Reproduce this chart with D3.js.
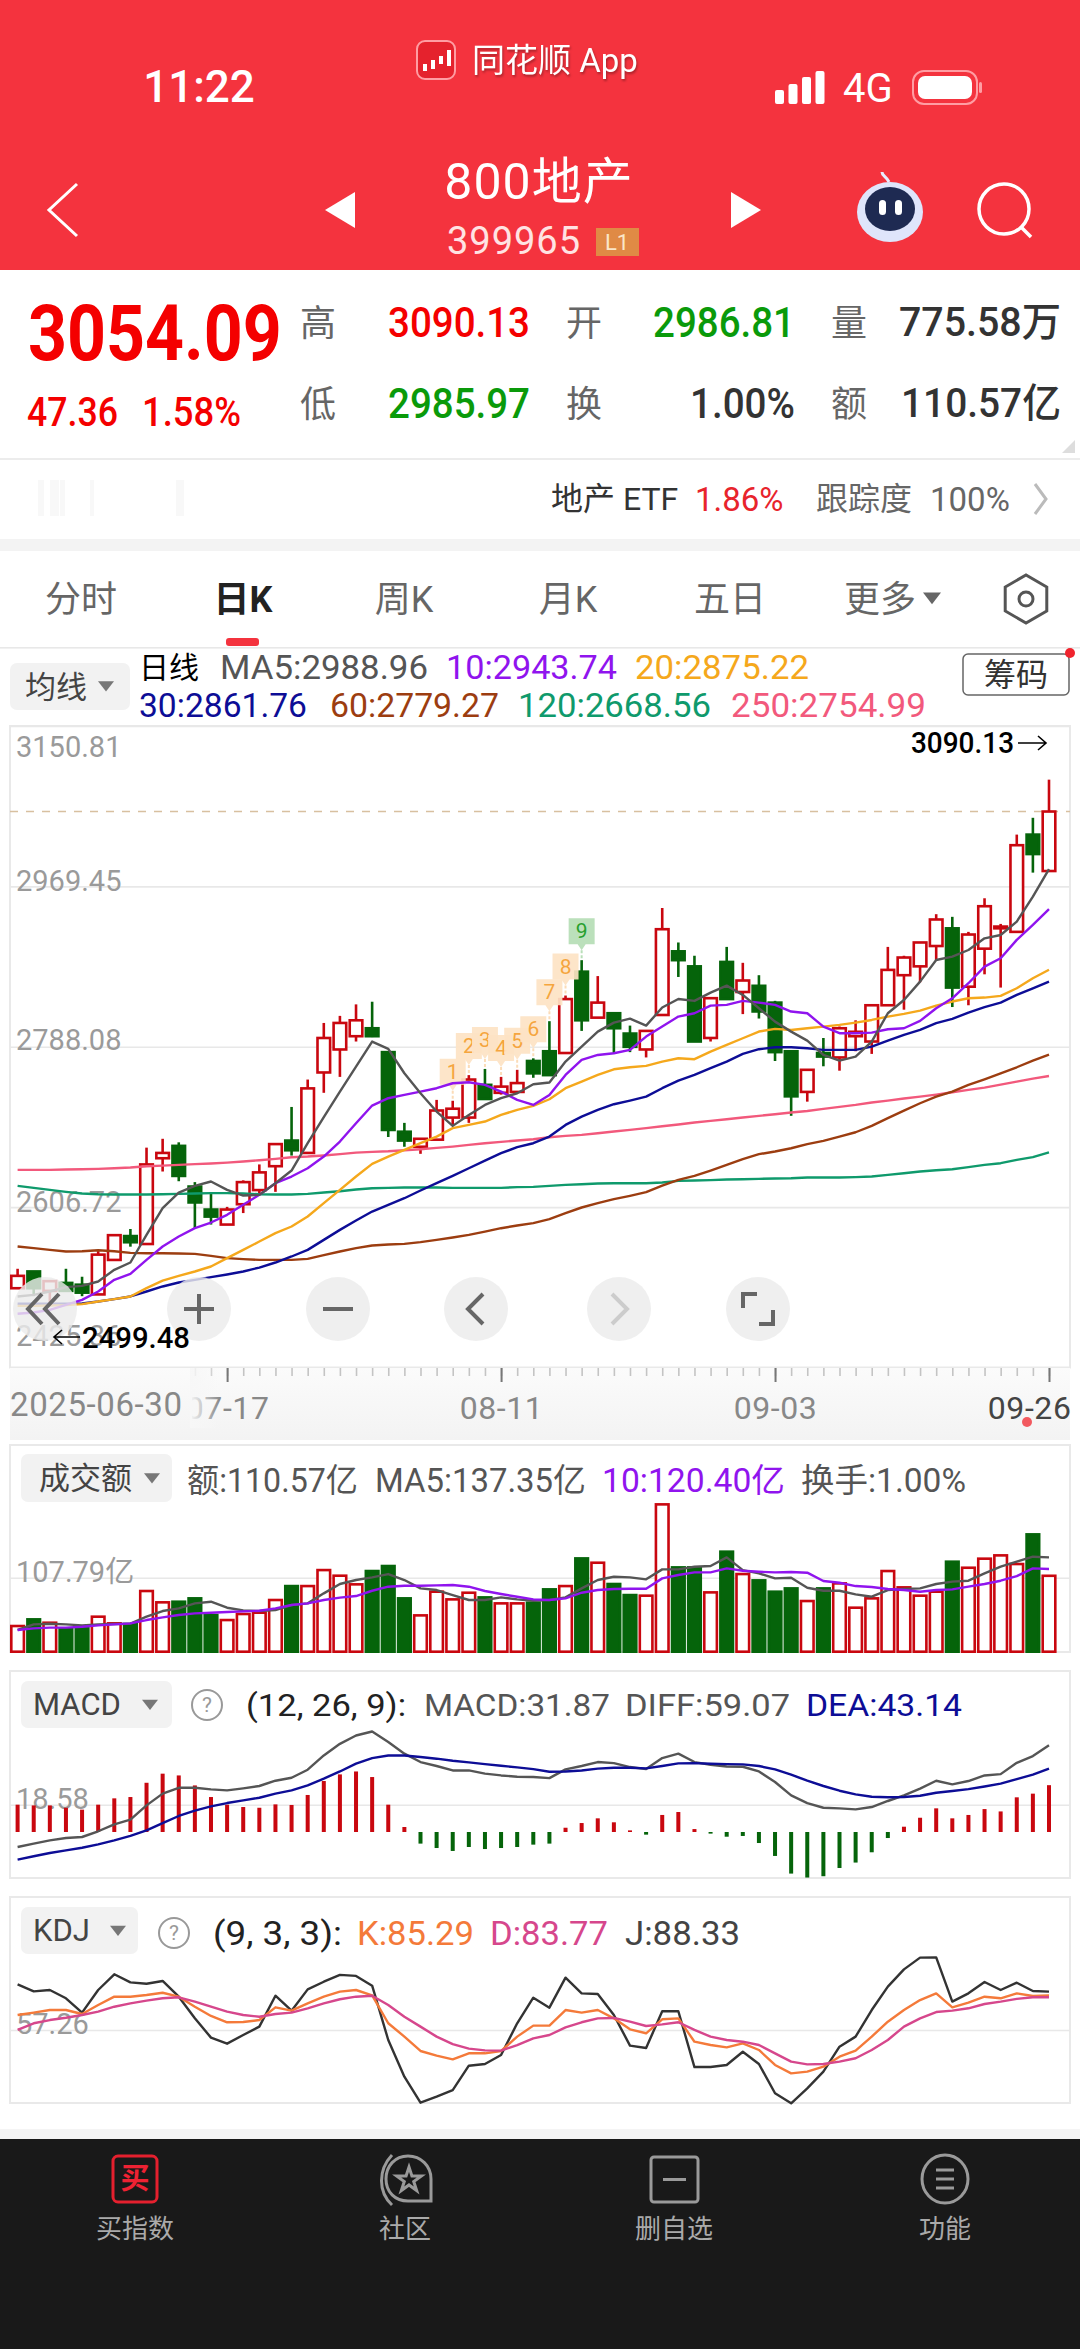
<!DOCTYPE html>
<html>
<head>
<meta charset="utf-8">
<style>
    html, body { margin: 0; padding: 0; background: #fff; }
    svg { display: block; }
    text { font-family: Roboto, "Noto Sans CJK SC", sans-serif; }
</style>
<script src="https://cdn.jsdelivr.net/npm/d3@7"></script>
</head>
<body>
<svg id="chart" width="1080" height="2349"></svg>
<script>
const dates = ["06-30",
    "07-01","07-02","07-03","07-04","07-07","07-08","07-09","07-10","07-11","07-14","07-15","07-16","07-17","07-18",
    "07-21","07-22","07-23","07-24","07-25","07-28","07-29","07-30","07-31","08-01","08-04","08-05","08-06","08-07","08-08",
    "08-11","08-12","08-13","08-14","08-15","08-18","08-19","08-20","08-21","08-22","08-25","08-26","08-27","08-28","08-29",
    "09-01","09-02","09-03","09-04","09-05","09-08","09-09","09-10","09-11","09-12","09-15","09-16","09-17","09-18","09-19",
    "09-22","09-23","09-24","09-25","09-26"];
const labelledDates = ["07-17", "08-11", "09-03", "09-26"];
const priceTicks = [3150.81, 2969.45, 2788.08, 2606.72, 2425.36];

const opens = [2515,2534,2512,2521,2519,2508,2547,2574,2565,2662,2676,2630,2604,2587,2610,2626,2653,2682,2668,2759,2785,2800,2809,2782,2692,2675,2683,2708,2708,2745,2736,2737,2772,
    2783,2781,2873,2821,2826,2803,2785,2824,2896,2879,2798,2884,2850,2857,2838,2783,2737,2781,2776,2800,2794,2835,2869,2879,2902,2922,2856,2899,2922,2918,3028,2986.81];
const highs = [2537,2534,2523,2537,2528,2557,2575,2582,2674,2684,2680,2635,2622,2607,2637,2655,2678,2720,2751,2815,2823,2836,2839,2782,2702,2684,2728,2727,2756,2763,2754,2762,2775,
    2817,2846,2886,2868,2826,2812,2806,2945,2906,2891,2843,2901,2883,2869,2840,2783,2762,2798,2811,2818,2835,2901,2891,2906,2938,2935,2918,2956,2927,3028,3047,3090.13];
const lows = [2515,2506,2499.48,2512,2506,2508,2547,2562,2565,2647,2636,2583,2587,2587,2600,2621,2624,2665,2668,2736,2754,2794,2799,2686,2675,2667,2683,2699,2702,2728,2734,2736,2753,
    2756,2781,2806,2821,2781,2782,2776,2824,2867,2794,2794,2842,2825,2820,2772,2710,2726,2766,2761,2783,2780,2835,2830,2861,2886,2833,2835,2870,2855,2918,2985,2985.97];
const closes = [2529,2515,2523,2512,2510,2553,2575,2567,2655,2668,2642,2612,2596,2604,2635,2646,2678,2671,2741,2798,2815,2818,2800,2694,2682,2684,2716,2718,2751,2729,2743,2747,2758,
    2756,2842,2818,2838,2809,2788,2806,2921,2886,2794,2843,2842,2863,2828,2782,2732,2762,2777,2809,2805,2835,2875,2889,2906,2932,2855,2915,2947,2924,3016,3006,3054.09];

const ma5 = [2505.7,2507.5,2511.3,2516.2,2517.7,2522.6,2535.8,2544.1,2575.4,2605.5,2623.2,2630.8,2635.7,2626.2,2619.8,2620.6,2633.8,2648.1,2679,2708.4,2737.4,2765.7,2793.9,2785.6,2758.1,2735.5,2714.8,2698.6,2711,2722.3,2729.9,2735.5,2745.7,
    2747.6,2771.3,2788.3,2805.2,2815.4,2819.9,2812,2832.4,2842.1,2839.9,2849.3,2857.2,2846.7,2831.6,2816.5,2805.2,2795,2778.8,2772.4,2777,2793.9,2826,2841,2861.7,2886.2,2890,2897.5,2910.7,2914.5,2929.6,2957.8,2988.96];
const ma10 = [2486.1,2487.6,2490.6,2496.2,2501.9,2511.3,2524.5,2531.3,2547.1,2562.2,2573.5,2582.9,2589.3,2598,2609.3,2620.6,2633.8,2641.3,2650.7,2663.9,2680.9,2701.6,2721.6,2729.9,2733.6,2737.4,2741.2,2746.8,2748,2744.9,2737.4,2728,2722.3,
    2733.6,2756.2,2773.2,2778.8,2780.7,2784.5,2799.6,2810.9,2822.2,2826,2834.6,2835.4,2839.9,2838,2835.4,2827.9,2826,2810.9,2803.4,2803.4,2804.1,2807.9,2809,2817.3,2831.6,2842.9,2859.9,2878.7,2888.2,2908.9,2925.8,2943.74];
const ma20 = [2495.1,2495.1,2495.5,2495.9,2497,2500,2502.7,2505.7,2515.1,2523.7,2529,2533.9,2539.6,2549,2558.4,2567.8,2577.3,2584.8,2596.1,2611.2,2626.2,2641.3,2655.6,2663.9,2671.5,2679,2686.5,2696,2699.7,2703.5,2711,2716.7,2721.2,
    2728.7,2741.2,2748.7,2756.2,2762.6,2764.9,2766.4,2771.3,2775.1,2774,2782.6,2790.1,2797.7,2805.3,2808.3,2807.1,2809,2810.9,2812.8,2815.4,2818.4,2822.2,2825.2,2829,2834.6,2839.2,2842.9,2843.7,2845.6,2854.2,2865.6,2875.22];
const ma30 = [2497.4,2497.4,2497.4,2497.4,2497.8,2500,2502.7,2505.7,2511.3,2517,2521.5,2524.5,2527.5,2530.5,2533.9,2538.4,2544.1,2550.9,2558.4,2569.7,2581,2591.6,2601.7,2609.3,2616.8,2625.5,2633.8,2642.1,2650.7,2659.4,2667.7,2674.5,2679,
    2686.5,2699.7,2709.1,2716.7,2723.1,2727.2,2731.7,2741.2,2749.8,2756.2,2763.8,2771.3,2780,2785.3,2787.5,2787.5,2786.4,2784.5,2784.5,2784.5,2788.3,2795,2801.5,2807.1,2814.7,2819.6,2826.7,2832.8,2838,2846.7,2854.2,2861.76];
const ma60 = [2562.2,2560.3,2558.4,2556.5,2556.9,2558,2556.9,2555,2554.6,2554.6,2554.3,2553.9,2551.6,2549,2547.9,2547.1,2547.1,2547.1,2548.2,2552.4,2556.5,2560.3,2563.3,2564.4,2565.2,2567.1,2569.7,2572.4,2575.4,2579.1,2582.9,2585.9,2588.6,
    2593.1,2599.9,2606.3,2611.2,2615.7,2619.5,2623.6,2631.1,2637.6,2642.1,2648.1,2654.5,2660.9,2666.6,2669.6,2673.3,2677.9,2681.6,2686.5,2691.4,2698.6,2707.3,2715.9,2724.2,2731.7,2737.4,2744.9,2751.3,2758.1,2764.9,2772.4,2779.27];
const ma120 = [2630.8,2628.5,2626.2,2624,2622.1,2621.3,2621,2621,2621,2621.3,2621.7,2622.1,2622.5,2622.5,2622.1,2621.3,2621,2621,2621.7,2623.2,2624.7,2626.6,2628.1,2628.5,2628.9,2628.9,2628.9,2628.5,2628.5,2628.5,2628.5,2629.3,2629.6,
    2630.8,2631.9,2632.6,2633.4,2633.8,2633.8,2633.8,2634.5,2636.4,2636.8,2637.2,2637.9,2638.3,2638.7,2639.1,2639.4,2640.2,2640.2,2640.2,2640.6,2641.3,2643.2,2645.1,2647,2648.5,2649.6,2651.9,2654.5,2656.4,2660.2,2663.2,2668.56];
const ma250 = [2648.8,2648.8,2648.8,2649.2,2649.6,2650,2650.7,2651.5,2653,2653.7,2654.5,2655.3,2656,2657.1,2658.3,2659.8,2661.3,2663.2,2663.9,2665.1,2666.6,2668.4,2669.2,2669.9,2671.1,2672.2,2673.7,2675.2,2677.1,2679,2680.5,2682,2683.5,
    2685.8,2687.3,2688.4,2690.3,2692.2,2694.1,2696,2698.2,2700.1,2702.4,2704.2,2706.1,2708,2709.9,2711.8,2713.7,2715.5,2717.8,2720.1,2722.3,2725,2727.2,2729.5,2731.7,2734,2736.6,2739.3,2741.9,2745.3,2748.7,2752.1,2754.99];

const amounts = [37.4,47.1,42.2,34,34,51,41.3,40.3,88.4,71.9,72.8,77.7,53.4,46.1,54.9,56.8,75.3,95.6,95.6,118.9,110.7,98.1,117.5,124.8,77.7,52.9,87.4,76.2,85.9,79.1,70.4,70.4,71.4,
    90.8,95.6,135.9,129.6,98.6,82.5,81.6,214.6,122.8,122.8,86.4,145.7,113.1,103.9,87.4,92.2,73.8,92.2,99.5,64.1,77.7,117.5,93.7,81.6,87.4,131.1,122.3,135.5,140.3,127.7,170.9,110.57];
const amountMa5 = [31.6,39.8,40.8,39.8,38.4,39.8,40.3,40.8,51,59.2,63.1,70.4,72.8,64.1,60.2,59.2,60.7,68,70.4,85,98.6,104.4,108.3,113.1,104.4,92.2,89.8,82.5,75.3,75.3,79.1,76.2,74.3,
    75.3,79.1,92.2,104.4,109.2,108.3,105.4,119.9,119.9,123.8,124.8,137.4,118.9,114.1,106.8,107.8,93.2,88.8,88.8,83.5,80.1,89.8,91.3,92.2,98.6,102,103.4,114.1,123.8,131.1,138.4,137.35];
const amountMa10 = [31.6,34,35,35,36.4,38.4,39.8,41.3,46.1,50,53.4,55.8,56.8,57.8,58.7,59.7,63.1,68,70.4,75.3,78.7,81.1,88.8,94.7,96.1,96.1,96.6,97.1,94.7,88.4,84,80.1,76.2,
    75.3,77.7,85.9,89.8,91.3,91.8,91.8,106.8,111.7,115.5,115.5,121.4,118,116.5,115.5,116,115.1,102.9,100.5,95.6,94.2,91.3,89.8,87.4,89.8,90.8,94.7,98.6,103.4,110.2,121.4,120.4];

const macd = [18.6,18.1,18.1,16.5,15.2,18.6,22.9,23.8,33.5,39.7,38.5,31.7,23.8,18.6,17,16.5,18.8,18.4,25.2,34.7,39.2,41.2,37.4,18.6,3.4,-7.9,-10.9,-12.9,-10.2,-11.6,-10.9,-10.2,-8.6,
    -7.9,2.9,6.1,9.3,6.6,1.1,-1.8,11.6,13.6,2,-1.1,-3.2,-2.7,-7.5,-16.3,-28.3,-31,-30.1,-24.5,-20.8,-13.8,-4.1,3.6,9.7,16.1,9.3,11.6,15.6,14,23.6,26.1,31.87];
const diff = [-10.2,-7.9,-5.7,-4.1,-3.4,0.5,5.2,8.4,18.1,26.1,30.1,30.1,29,28.3,29.7,31.3,34.9,36.9,42.4,52.1,60,65.7,68.4,61.2,53.3,47.6,44.9,41.9,41.9,39.7,38.5,37.6,37.4,
    36.7,42.6,44.9,47.6,46.9,44.2,42.8,50.3,53.3,47.6,45.8,44.6,44.4,41.2,34,24.9,19.7,16.5,16.1,15.4,17,21.1,24.9,29.5,34.9,32.4,34.7,38.5,39.4,47.1,51.7,59.07];
const dea = [-18.8,-16.5,-14.3,-12.5,-10.7,-8.4,-5.7,-2.7,1.1,6.1,10.9,14.5,17.4,19.7,21.5,23.3,26.1,28.3,31.7,36.3,41.2,46.5,50.3,52.1,52.1,51,49.9,48.5,47.4,46.2,45.1,44,42.8,
    41,41.2,41.9,43.1,43.7,43.7,43.3,44.9,46.7,46.9,46.5,46.2,46,44.9,42.6,39,34.9,31.3,28.1,25.6,24,23.6,23.8,24.7,26.7,27.9,29.2,31,32.9,36,39,43.14];

const kdjK = [69.4,71.3,73.4,73.4,70.2,77.5,84.2,84.2,85.6,87.4,84.2,76.1,68.6,63.5,63.7,65.3,75.6,72.9,78.8,84.2,88.3,89.6,85.3,62.7,51.9,40.3,36.5,33.5,38.4,38.4,40.3,51.9,60.8,
    60.8,73.4,71.3,73.4,66.7,57.8,54.6,65.9,66.7,47.8,45.1,43.2,46.5,41.1,29,22.2,23.6,27.6,35.7,40.6,51.9,64,73.4,81.5,86.9,75.6,79.4,84.2,82.9,86.9,84.8,85.29];
const kdjD = [57.3,62.7,65.3,67.2,69.4,72.1,76.1,78.8,81,82.9,83.7,80.2,76.1,72.1,69.4,68,70.2,71.3,74.8,78.8,82.1,84.2,85,77.5,68,60,51.9,45.9,42.2,40.8,40.6,45.1,50.5,
    53.2,59.4,63.5,66.7,67,64,60.5,61.8,63.5,57.3,51.9,49.2,47.8,45.1,38.4,31.7,29.5,29.8,31.7,34.4,41.1,49.2,60,66.7,71.8,72.9,74.8,78.3,80.2,82.4,83.7,83.77];
const kdjJ = [94.2,88.5,89.6,82.9,71.3,89.6,102.3,95.8,94.7,96.9,84.2,66.7,51.1,46.2,53.2,60,85,72.9,90.1,96.3,101.8,101,93.1,49.2,19.5,-1.5,3.4,8.7,28.4,29.8,37,62.7,83.4,
    75.3,99.6,86.9,86.4,69.4,44.6,42.7,72.4,72.4,27.3,27.3,29,39.7,29.8,6.1,-2,10.1,23.6,43.8,51.9,73.4,92.3,106.3,115.8,116,80.2,86.9,96.1,89.6,95.5,88.8,88.33];

// nine-count markers above the candles (candle index for the counts 1..9)
const countSeq = [27,28,29,30,31,32,33,34,35];

const UP = "#c9070f", DOWN = "#05640a", GRID = "#e8e8e8", LABEL = "#9a9a9a";
const BAND = 12.6;

const svg = d3.select("#chart");

const x = d3.scalePoint().domain(dates).range([17.6, 1049]);
const yPrice = d3.scaleLinear().domain([2425.36, 3150.81]).range([1367.5, 726]);
const yAmount = d3.scaleLinear().domain([0, 107.79]).range([1651.7, 1577.7]);
const yMacd = d3.scaleLinear().domain([0, 18.58]).range([1832, 1804.7]);
const yKdj = d3.scaleLinear().domain([0, 57.26]).range([2030 + 57.26 * 1.2367, 2030]);

function label(parent, px, py, str, opts) {
    opts = opts || {};
    const t = parent.append("text")
        .attr("x", px).attr("y", py)
        .attr("dominant-baseline", "central")
        .attr("text-anchor", opts.anchor || "start")
        .attr("font-size", opts.size || 32)
        .attr("font-weight", opts.weight || 400)
        .attr("letter-spacing", opts.spacing || 0)
        .attr("fill", opts.fill || "#333")
        .text(str);
    if (opts.length) {
        t.attr("textLength", opts.length).attr("lengthAdjust", "spacingAndGlyphs");
    }
    return t;
}

function frame(top, bottom) {
    svg.append("rect").attr("x", 10).attr("y", top).attr("width", 1060).attr("height", bottom - top)
        .attr("fill", "#fff").attr("stroke", "#e9e9e9").attr("stroke-width", 2);
}

function gridAxis(scale, ticks, texts, offsets) {
    const axis = d3.axisRight(scale).tickValues(ticks).tickSize(1060).tickFormat((d, i) => texts[i]);
    const g = svg.append("g").attr("transform", "translate(10,0)").call(axis);
    g.select(".domain").remove();
    g.selectAll("line").attr("stroke", GRID).attr("stroke-width", 1.6);
    g.selectAll("text")
        .attr("x", 6)
        .attr("dy", (d, i) => offsets[i])
        .attr("dominant-baseline", "central")
        .attr("text-anchor", "start")
        .attr("font-size", 29)
        .attr("fill", LABEL);
}

function drawLine(scale, values, color, width) {
    const line = d3.line().x((d, i) => x(dates[i])).y(d => scale(d));
    svg.append("path").datum(values)
        .attr("d", line)
        .attr("fill", "none")
        .attr("stroke", color)
        .attr("stroke-width", width || 2.4)
        .attr("stroke-linejoin", "round");
}

function dropButton(top, bottom, width, str, textX, triX) {
    svg.append("rect").attr("x", 21).attr("y", top).attr("width", width).attr("height", bottom - top)
        .attr("rx", 7).attr("fill", "#f2f2f2");
    label(svg, textX, (top + bottom) / 2, str, {size: 31, fill: "#444"});
    triangle(triX, (top + bottom) / 2, 8, "#777");
}

function triangle(cx, cy, r, fill) {
    svg.append("path")
        .attr("d", `M${cx - r},${cy - r * 0.6}L${cx + r},${cy - r * 0.6}L${cx},${cy + r * 0.7}Z`)
        .attr("fill", fill);
}

function helpIcon(cx, cy) {
    svg.append("circle").attr("cx", cx).attr("cy", cy).attr("r", 15)
        .attr("fill", "none").attr("stroke", "#999").attr("stroke-width", 2);
    label(svg, cx, cy, "?", {size: 21, fill: "#999", anchor: "middle"});
}

/* ---------- header ---------- */
function drawHeader() {
    svg.append("rect").attr("width", 1080).attr("height", 270).attr("fill", "#f4333e");

    label(svg, 199, 87, "11:22", {size: 44, fill: "#fff", anchor: "middle", weight: 500});

    // app badge
    svg.append("rect").attr("x", 417).attr("y", 41).attr("width", 38).attr("height", 38).attr("rx", 8)
        .attr("fill", "#e5222d").attr("stroke", "#ff9da3").attr("stroke-width", 2);
    [[423, 64, 7], [431, 60, 9], [439, 56, 8], [447, 50, 16]].forEach(b => {
        svg.append("rect").attr("x", b[0]).attr("y", b[1]).attr("width", 4).attr("height", b[2]).attr("fill", "#fff");
    });
    label(svg, 472, 60, "同花顺 App", {size: 33, fill: "#fff"}).style("filter", "drop-shadow(1px 2px 1px rgba(0,0,0,.3))");

    // signal, 4G, battery
    [14, 20, 27, 33].forEach((h, i) => {
        svg.append("rect").attr("x", 775 + i * 13.5).attr("y", 104 - h).attr("width", 9).attr("height", h)
            .attr("rx", 2).attr("fill", "#fff");
    });
    label(svg, 843, 88, "4G", {size: 40, fill: "#fff"});
    svg.append("rect").attr("x", 913).attr("y", 71).attr("width", 64).attr("height", 33).attr("rx", 11)
        .attr("fill", "none").attr("stroke", "#ff9da3").attr("stroke-width", 2);
    svg.append("rect").attr("x", 918).attr("y", 76).attr("width", 54).attr("height", 23).attr("rx", 7).attr("fill", "#fff");
    svg.append("rect").attr("x", 979).attr("y", 82).attr("width", 3).attr("height", 11).attr("rx", 1.5).attr("fill", "#ff9da3");

    // nav row
    svg.append("path").attr("d", "M77,184L49,210L77,236")
        .attr("fill", "none").attr("stroke", "#fff").attr("stroke-width", 3);
    svg.append("path").attr("d", "M355,192L325,210L355,228Z").attr("fill", "#fff");
    svg.append("path").attr("d", "M731,192L761,210L731,228Z").attr("fill", "#fff");
    label(svg, 539, 182, "800地产", {size: 50, fill: "#fff", anchor: "middle", spacing: 1});
    label(svg, 514, 241, "399965", {size: 38, fill: "#ffe3e3", anchor: "middle", spacing: 1});
    svg.append("rect").attr("x", 596).attr("y", 228).attr("width", 43).attr("height", 28).attr("fill", "#e08a45");
    label(svg, 617, 242, "L1", {size: 22, fill: "#fbe6c8", anchor: "middle"});

    // robot and search
    svg.append("path").attr("d", "M889,182C886,176 882,176 882,172").attr("fill", "none").attr("stroke", "#e8ecff").attr("stroke-width", 3);
    svg.append("ellipse").attr("cx", 890).attr("cy", 212).attr("rx", 33).attr("ry", 30).attr("fill", "#dfe5fb");
    svg.append("ellipse").attr("cx", 890).attr("cy", 209).attr("rx", 25).attr("ry", 22).attr("fill", "#1e2a52");
    svg.append("rect").attr("x", 879).attr("y", 200).attr("width", 7).attr("height", 15).attr("rx", 3.5).attr("fill", "#fff");
    svg.append("rect").attr("x", 895).attr("y", 200).attr("width", 7).attr("height", 15).attr("rx", 3.5).attr("fill", "#fff");
    svg.append("circle").attr("cx", 1004).attr("cy", 209).attr("r", 25)
        .attr("fill", "none").attr("stroke", "#fff").attr("stroke-width", 3.5);
    svg.append("line").attr("x1", 1021).attr("y1", 227).attr("x2", 1031).attr("y2", 237)
        .attr("stroke", "#fff").attr("stroke-width", 3.5);
}

/* ---------- quote block ---------- */
function drawQuote() {
    const RED = "#f40000", GREEN = "#0a9a0a", DARK = "#333", MUTED = "#666";
    // the big price is narrower than Roboto Bold, squeeze it sideways
    label(svg, 0, 0, "3054.09", {size: 78, fill: RED, weight: 700})
        .attr("transform", "translate(28,333) scale(0.872,1)");
    label(svg, 27, 412, "47.36", {size: 40, fill: RED, weight: 500, length: 91});
    label(svg, 142, 412, "1.58%", {size: 40, fill: RED, weight: 500, length: 99});

    [["高", 324], ["低", 405]].forEach(r => label(svg, 318, r[1], r[0], {size: 36, fill: MUTED, anchor: "middle"}));
    [["开", 324], ["换", 405]].forEach(r => label(svg, 584, r[1], r[0], {size: 36, fill: MUTED, anchor: "middle"}));
    [["量", 324], ["额", 405]].forEach(r => label(svg, 849, r[1], r[0], {size: 36, fill: MUTED, anchor: "middle"}));

    label(svg, 388, 322, "3090.13", {size: 42, fill: RED, weight: 500, length: 142});
    label(svg, 388, 403, "2985.97", {size: 42, fill: GREEN, weight: 500, length: 142});
    label(svg, 653, 322, "2986.81", {size: 42, fill: GREEN, weight: 500, length: 142});
    label(svg, 690, 403, "1.00%", {size: 42, fill: DARK, weight: 500, length: 105});
    label(svg, 899, 322, "775.58万", {size: 40, fill: DARK, weight: 500, length: 162});
    label(svg, 901, 403, "110.57亿", {size: 40, fill: DARK, weight: 500, length: 160});

    svg.append("path").attr("d", "M1075,440L1075,453L1062,453Z").attr("fill", "#ddd");
    svg.append("rect").attr("y", 458).attr("width", 1080).attr("height", 2).attr("fill", "#ececec");

    [[38, 6], [50, 9], [60, 5], [90, 4], [176, 8]].forEach(b => {
        svg.append("rect").attr("x", b[0]).attr("y", 480).attr("width", b[1]).attr("height", 36).attr("fill", "#f8f8f8");
    });
    label(svg, 551, 499, "地产 ETF", {size: 32, fill: "#333"});
    label(svg, 695, 499, "1.86%", {size: 33, fill: "#e8242c"});
    label(svg, 816, 499, "跟踪度", {size: 32, fill: "#666"});
    label(svg, 930, 499, "100%", {size: 33, fill: "#666"});
    svg.append("path").attr("d", "M1035,484L1046,499L1035,514").attr("fill", "none").attr("stroke", "#bbb").attr("stroke-width", 3);

    svg.append("rect").attr("y", 539).attr("width", 1080).attr("height", 12).attr("fill", "#f3f3f3");
}

/* ---------- period tabs ---------- */
function drawTabs() {
    const tabs = [["分时", 81], ["日K", 243], ["周K", 404], ["月K", 568], ["五日", 730], ["更多", 880]];
    tabs.forEach((t, i) => {
        label(svg, t[1], 600, t[0], {
            size: 36, anchor: "middle",
            fill: i === 1 ? "#222" : "#666",
            weight: i === 1 ? 700 : 400
        });
    });
    triangle(932, 598, 9, "#666");
    const hex = d3.range(6).map(i => {
        const a = Math.PI / 3 * i + Math.PI / 6;
        return [1026 + 24 * Math.cos(a), 599 + 24 * Math.sin(a)];
    });
    svg.append("path").attr("d", d3.line()(hex) + "Z").attr("fill", "none").attr("stroke", "#555").attr("stroke-width", 3);
    svg.append("circle").attr("cx", 1026).attr("cy", 599).attr("r", 7).attr("fill", "none").attr("stroke", "#555").attr("stroke-width", 3);
    svg.append("rect").attr("x", 226).attr("y", 638).attr("width", 33).attr("height", 8).attr("rx", 3).attr("fill", "#f4333e");
    svg.append("rect").attr("y", 647).attr("width", 1080).attr("height", 1.6).attr("fill", "#e8e8e8");
}

/* ---------- price panel ---------- */
function drawPriceLegend() {
    svg.append("rect").attr("x", 10).attr("y", 663).attr("width", 120).attr("height", 47).attr("rx", 7).attr("fill", "#f2f2f2");
    label(svg, 25, 687, "均线", {size: 31, fill: "#444"});
    triangle(106, 686, 8, "#777");
    label(svg, 139, 667, "日线", {size: 30, fill: "#000"});
    const row1 = [["MA5:2988.96", 220, "#555", 208], ["10:2943.74", 446, "#9014ee", 171], ["20:2875.22", 635, "#f5a81c", 174]];
    const row2 = [["30:2861.76", 139, "#0d0d96", 168], ["60:2779.27", 330, "#9c3d10", 169], ["120:2668.56", 518, "#0f9a6c", 193], ["250:2754.99", 731, "#f2597c", 195]];
    row1.forEach(t => label(svg, t[1], 667, t[0], {size: 34, fill: t[2], length: t[3]}));
    row2.forEach(t => label(svg, t[1], 705, t[0], {size: 34, fill: t[2], length: t[3]}));

    svg.append("rect").attr("x", 963).attr("y", 654).attr("width", 106).attr("height", 41).attr("rx", 5)
        .attr("fill", "#fff").attr("stroke", "#666").attr("stroke-width", 1.5);
    label(svg, 1016, 675, "筹码", {size: 32, fill: "#333", anchor: "middle"});
    svg.append("circle").attr("cx", 1070).attr("cy", 653).attr("r", 5).attr("fill", "#f0232d");
}

function drawCandles() {
    const idx = d3.range(dates.length);
    const candles = svg.append("g").selectAll("g").data(idx).join("g");
    const color = i => closes[i] >= opens[i] ? UP : DOWN;
    const boxTop = i => yPrice(Math.max(opens[i], closes[i]));
    const boxBottom = i => yPrice(Math.min(opens[i], closes[i]));

    candles.append("line")
        .attr("x1", i => x(dates[i])).attr("x2", i => x(dates[i]))
        .attr("y1", i => yPrice(highs[i])).attr("y2", boxTop)
        .attr("stroke", color).attr("stroke-width", 2.6);
    candles.append("line")
        .attr("x1", i => x(dates[i])).attr("x2", i => x(dates[i]))
        .attr("y1", boxBottom).attr("y2", i => yPrice(lows[i]))
        .attr("stroke", color).attr("stroke-width", 2.6);
    candles.append("rect")
        .attr("x", i => x(dates[i]) - BAND / 2)
        .attr("y", boxTop)
        .attr("width", BAND)
        .attr("height", i => Math.max(1.5, boxBottom(i) - boxTop(i)))
        .attr("fill", i => closes[i] >= opens[i] ? "#fff" : DOWN)
        .attr("stroke", color)
        .attr("stroke-width", 2.6);
}

function drawCountMarkers() {
    const g = svg.append("g").selectAll("g").data(countSeq).join("g");
    const isLast = (d, i) => i === countSeq.length - 1;
    const tip = d => yPrice(highs[d]) - 10;
    g.append("line")
        .attr("x1", d => x(dates[d])).attr("x2", d => x(dates[d]))
        .attr("y1", tip).attr("y2", d => yPrice(highs[d]))
        .attr("stroke", (d, i) => isLast(d, i) ? "#b8dfb8" : "#fbdcb8")
        .attr("stroke-width", 2).attr("stroke-dasharray", "3 2");
    g.append("path")
        .attr("d", d => {
            const cx = x(dates[d]), t = tip(d);
            return `M${cx - 13},${t - 32}h26v26h-9l-4,6l-4,-6h-9Z`;
        })
        .attr("fill", (d, i) => isLast(d, i) ? "#b5ddb5" : "#fde3c4")
        .attr("opacity", 0.92);
    g.append("text")
        .attr("x", d => x(dates[d])).attr("y", d => tip(d) - 19)
        .attr("text-anchor", "middle").attr("dominant-baseline", "central")
        .attr("font-size", 21)
        .attr("fill", (d, i) => isLast(d, i) ? "#28a02e" : "#f5a53e")
        .text((d, i) => i + 1);
}

function drawPricePanel() {
    frame(726, 1367.5);
    gridAxis(yPrice, priceTicks, priceTicks.map(d => d.toFixed(2)), [20, -6, -7, -6, -32]);
    svg.append("line").attr("x1", 10).attr("x2", 1070)
        .attr("y1", yPrice(closes[closes.length - 1])).attr("y2", yPrice(closes[closes.length - 1]))
        .attr("stroke", "#d8c0a0").attr("stroke-width", 1.5).attr("stroke-dasharray", "8 8");
    drawCandles();
    drawCountMarkers();
    [[ma250, "#f2597c"], [ma120, "#0f9a6c"], [ma60, "#9c3d10"], [ma30, "#0d0d96"], [ma20, "#f5a81c"], [ma10, "#9014ee"], [ma5, "#555"]]
        .forEach(m => drawLine(yPrice, m[0], m[1]));

    label(svg, 911, 743, "3090.13", {size: 29, fill: "#000", weight: 500, length: 103});
    svg.append("path").attr("d", "M1018,743H1046M1038,736L1046,743L1038,750").attr("fill", "none").attr("stroke", "#000").attr("stroke-width", 1.6);

    // floating controls
    const btnY = 1309;
    [45, 199, 338, 476, 619, 758].forEach(cx => {
        svg.append("circle").attr("cx", cx).attr("cy", btnY).attr("r", 32).attr("fill", "#ececec").attr("opacity", 0.82);
    });
    const icon = (d, stroke) => svg.append("path").attr("d", d).attr("fill", "none")
        .attr("stroke", stroke || "#666").attr("stroke-width", 4);
    icon("M42,1294L28,1309L42,1324M59,1294L45,1309L59,1324");
    icon("M184,1309H214M199,1294V1324");
    icon("M323,1309H353");
    icon("M483,1294L468,1309L483,1324");
    icon("M612,1294L627,1309L612,1324", "#ccc");
    icon("M757,1294H743V1308M759,1324H773V1310");

    label(svg, 82, 1337, "2499.48", {size: 30, fill: "#000", weight: 500, length: 108});
    svg.append("path").attr("d", "M54,1337H80M62,1330L54,1337L62,1344").attr("fill", "none").attr("stroke", "#000").attr("stroke-width", 1.6);
}

function drawDateAxis() {
    const defs = svg.append("defs");
    const grad = defs.append("linearGradient").attr("id", "axisBand").attr("x1", 0).attr("y1", 0).attr("x2", 0).attr("y2", 1);
    grad.append("stop").attr("offset", 0).attr("stop-color", "#fbfbfb");
    grad.append("stop").attr("offset", 1).attr("stop-color", "#f3f3f3");
    const fade = defs.append("linearGradient").attr("id", "axisFade");
    fade.append("stop").attr("offset", 0).attr("stop-color", "#f7f7f7").attr("stop-opacity", 1);
    fade.append("stop").attr("offset", 1).attr("stop-color", "#f7f7f7").attr("stop-opacity", 0);

    svg.append("rect").attr("x", 10).attr("y", 1368).attr("width", 1060).attr("height", 72).attr("fill", "url(#axisBand)");

    const minor = svg.append("g").attr("transform", "translate(0,1368)")
        .call(d3.axisBottom(x).tickSize(8).tickFormat(""));
    minor.select(".domain").remove();
    minor.selectAll("line").attr("stroke", "#c4c4c4").attr("stroke-width", 1.6);

    const major = svg.append("g").attr("transform", "translate(0,1368)")
        .call(d3.axisBottom(x).tickValues(labelledDates).tickSize(14).tickPadding(14));
    major.select(".domain").remove();
    major.selectAll("line").attr("stroke", "#777").attr("stroke-width", 2);
    major.selectAll("text")
        .attr("font-size", 32)
        .attr("letter-spacing", 0.6)
        .attr("fill", d => d === "09-26" ? "#444" : "#888")
        .attr("text-anchor", d => d === "09-26" ? "end" : "middle")
        .attr("x", d => d === "09-26" ? 1071 - x(d) : 0);

    svg.append("rect").attr("x", 10).attr("y", 1368).attr("width", 182).attr("height", 72).attr("fill", "url(#axisBand)");
    svg.append("rect").attr("x", 190).attr("y", 1368).attr("width", 30).attr("height", 60).attr("fill", "url(#axisFade)");
    label(svg, 10, 1404, "2025-06-30", {size: 33, fill: "#888", spacing: 0.6});
    svg.append("circle").attr("cx", 1027).attr("cy", 1422).attr("r", 5).attr("fill", "#f2595f");
}

/* ---------- amount panel ---------- */
function drawAmountPanel() {
    frame(1445, 1652);
    gridAxis(yAmount, [107.79], ["107.79亿"], [-6]);
    dropButton(1454, 1502, 151, "成交额", 39, 152);
    const legend = [["额:110.57亿", 187, "#555", 171], ["MA5:137.35亿", 375, "#555", 211], ["10:120.40亿", 602, "#9014ee", 183], ["换手:1.00%", 801, "#555", 165]];
    legend.forEach(t => label(svg, t[1], 1480, t[0], {size: 33, fill: t[2], length: t[3]}));

    svg.append("g").selectAll("rect").data(amounts).join("rect")
        .attr("x", (d, i) => x(dates[i]) - BAND / 2)
        .attr("y", d => yAmount(d))
        .attr("width", BAND)
        .attr("height", d => yAmount(0) - yAmount(d))
        .attr("fill", (d, i) => closes[i] >= opens[i] ? "#fff" : DOWN)
        .attr("stroke", (d, i) => closes[i] >= opens[i] ? UP : DOWN)
        .attr("stroke-width", 2.6);
    drawLine(yAmount, amountMa5, "#555");
    drawLine(yAmount, amountMa10, "#9014ee");
}

/* ---------- MACD panel ---------- */
function drawMacdPanel() {
    frame(1671, 1878);
    gridAxis(yMacd, [18.58], ["18.58"], [-6]);
    dropButton(1681, 1728, 151, "MACD", 33, 150);
    helpIcon(207, 1705);
    const legend = [["(12, 26, 9):", 246, "#222", 160], ["MACD:31.87", 424, "#555", 186], ["DIFF:59.07", 625, "#555", 165], ["DEA:43.14", 806, "#0d0d96", 156]];
    legend.forEach(t => label(svg, t[1], 1705, t[0], {size: 32, fill: t[2], length: t[3]}));

    svg.append("g").selectAll("rect").data(macd).join("rect")
        .attr("x", (d, i) => x(dates[i]) - 2)
        .attr("y", d => d >= 0 ? yMacd(d) : yMacd(0))
        .attr("width", 4)
        .attr("height", d => Math.abs(yMacd(d) - yMacd(0)))
        .attr("fill", d => d >= 0 ? UP : DOWN);
    drawLine(yMacd, diff, "#555");
    drawLine(yMacd, dea, "#0d0d96");
}

/* ---------- KDJ panel ---------- */
function drawKdjPanel() {
    frame(1897, 2103);
    gridAxis(yKdj, [57.26], ["57.26"], [-7]);
    dropButton(1907, 1954, 117, "KDJ", 33, 118);
    helpIcon(174, 1933);
    const legend = [["(9, 3, 3):", 213, "#222", 129], ["K:85.29", 357, "#f47a3a", 117], ["D:83.77", 490, "#d6478c", 118], ["J:88.33", 625, "#444", 115]];
    legend.forEach(t => label(svg, t[1], 1933, t[0], {size: 33, fill: t[2], length: t[3]}));
    drawLine(yKdj, kdjJ, "#333");
    drawLine(yKdj, kdjK, "#f47a3a");
    drawLine(yKdj, kdjD, "#d6478c");
}

/* ---------- bottom bar ---------- */
function drawFooter() {
    svg.append("rect").attr("y", 2129).attr("width", 1080).attr("height", 10).attr("fill", "#f4f4f4");
    svg.append("rect").attr("y", 2139).attr("width", 1080).attr("height", 210).attr("fill", "#191919");
    const GREY = "#9a9a9a";
    const items = [["买指数", 135], ["社区", 405], ["删自选", 674], ["功能", 945]];
    items.forEach(t => label(svg, t[1], 2229, t[0], {size: 26, fill: "#aaa", anchor: "middle"}));

    svg.append("rect").attr("x", 113).attr("y", 2156).attr("width", 44).attr("height", 46).attr("rx", 5)
        .attr("fill", "none").attr("stroke", "#e5202e").attr("stroke-width", 3);
    label(svg, 135, 2179, "买", {size: 29, fill: "#ee2233", anchor: "middle", weight: 700});

    svg.append("path").attr("d", "M392,2155C378,2170 378,2192 392,2205").attr("fill", "none").attr("stroke", GREY).attr("stroke-width", 3);
    svg.append("path").attr("d", "M408,2156C395,2156 386,2166 386,2179C386,2192 395,2201 408,2201H431V2179C431,2166 421,2156 408,2156Z")
        .attr("fill", "none").attr("stroke", GREY).attr("stroke-width", 3);
    svg.append("path").attr("d", d3.symbol(d3.symbolStar, 190)())
        .attr("transform", "translate(409,2180)")
        .attr("fill", "none").attr("stroke", GREY).attr("stroke-width", 3);

    svg.append("rect").attr("x", 651).attr("y", 2157).attr("width", 47).attr("height", 45).attr("rx", 3)
        .attr("fill", "none").attr("stroke", GREY).attr("stroke-width", 3);
    svg.append("rect").attr("x", 663).attr("y", 2178).attr("width", 23).attr("height", 3).attr("fill", GREY);

    svg.append("ellipse").attr("cx", 945).attr("cy", 2179).attr("rx", 23).attr("ry", 24)
        .attr("fill", "none").attr("stroke", GREY).attr("stroke-width", 3);
    [2170, 2179, 2188].forEach(y => {
        svg.append("rect").attr("x", 936).attr("y", y - 1.5).attr("width", 18).attr("height", 3).attr("fill", GREY);
    });
}

drawHeader();
drawQuote();
drawTabs();
drawPriceLegend();
drawPricePanel();
drawDateAxis();
drawAmountPanel();
drawMacdPanel();
drawKdjPanel();
drawFooter();
</script>
</body>
</html>
